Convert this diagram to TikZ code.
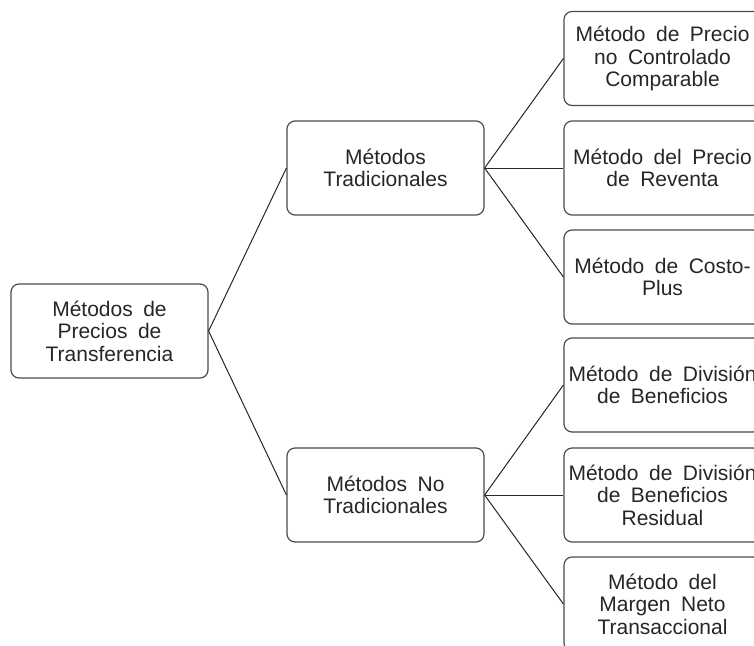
\documentclass[tikz,border=0pt]{standalone}
\usepackage{fontspec}
\setmainfont{Liberation Sans}
\newcommand{\boxfont}{\fontsize{21}{22.5}\selectfont\spaceskip=0.5em plus 0.1em\relax}
\begin{document}
\begin{tikzpicture}[x=1pt,y=-1pt,
  box/.style={draw=black!70,line width=1.2pt,rounded corners=8pt,minimum width=197pt,minimum height=94pt,align=center,inner sep=2pt,font=\boxfont,text=black!85},
  conn/.style={draw=black!85,line width=1pt}]
\useasboundingbox (0,0) rectangle (754,645);
\clip (0,0) rectangle (754,645);
\node[box] (root) at (109.5,331) {Métodos de\\Precios de\\Transferencia};
\node[box] (trad) at (385.5,168) {Métodos\\Tradicionales};
\node[box] (notrad) at (385.5,495) {Métodos No\\Tradicionales};
\node[box] (r1) at (662.5,58.5) {Método de Precio\\no Controlado\\Comparable};
\node[box] (r2) at (662.5,168) {Método del Precio\\de Reventa};
\node[box] (r3) at (662.5,277) {Método de Costo-\\Plus};
\node[box] (r4) at (662.5,385) {Método de División\\de Beneficios};
\node[box] (r5) at (662.5,495) {Método de División\\de Beneficios\\Residual};
\node[box] (r6) at (662.5,604) {Método del\\Margen Neto\\Transaccional};
\draw[conn] (root.east) -- (trad.west);
\draw[conn] (root.east) -- (notrad.west);
\draw[conn] (trad.east) -- (r1.west);
\draw[conn] (trad.east) -- (r2.west);
\draw[conn] (trad.east) -- (r3.west);
\draw[conn] (notrad.east) -- (r4.west);
\draw[conn] (notrad.east) -- (r5.west);
\draw[conn] (notrad.east) -- (r6.west);
\end{tikzpicture}
\end{document}
